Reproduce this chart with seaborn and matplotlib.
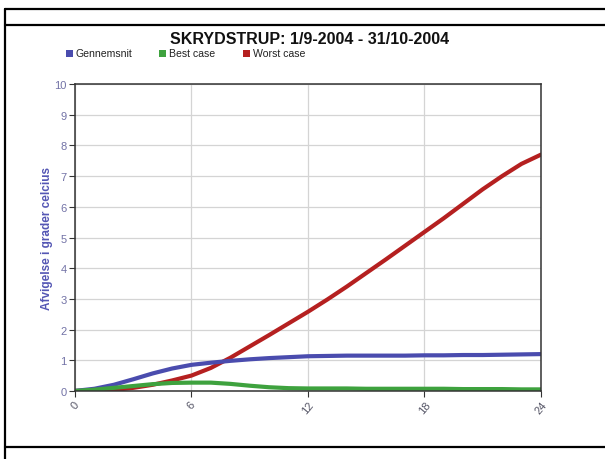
import matplotlib
matplotlib.use("Agg")
import matplotlib.pyplot as plt
from matplotlib.lines import Line2D
from matplotlib.patches import Rectangle
import seaborn as sns
import pandas as pd

sns.set_theme(style="white")
plt.rcParams["font.family"] = ["Liberation Sans", "DejaVu Sans"]

hours = list(range(0, 25))
gennemsnit = [0.0, 0.07, 0.2, 0.38, 0.57, 0.73, 0.85, 0.92, 0.98, 1.03, 1.07, 1.1, 1.13,
              1.14, 1.15, 1.15, 1.15, 1.15, 1.16, 1.16, 1.17, 1.17, 1.18, 1.19, 1.2]
best_case = [0.0, 0.04, 0.1, 0.16, 0.22, 0.26, 0.27, 0.27, 0.23, 0.17, 0.12, 0.09, 0.08,
             0.08, 0.08, 0.07, 0.07, 0.07, 0.07, 0.07, 0.06, 0.06, 0.06, 0.05, 0.05]
worst_case = [0.0, 0.01, 0.03, 0.1, 0.2, 0.34, 0.5, 0.75, 1.08, 1.45, 1.82, 2.2, 2.58,
              2.98, 3.4, 3.84, 4.28, 4.73, 5.18, 5.63, 6.1, 6.57, 7.0, 7.4, 7.7]

series = ["Gennemsnit", "Best case", "Worst case"]
colors = {"Gennemsnit": "#4a4cae", "Best case": "#3ea23e", "Worst case": "#b52020"}
title = "SKRYDSTRUP: 1/9-2004 - 31/10-2004"
ylabel = "Afvigelse i grader celcius"
xticks = [0, 6, 12, 18, 24]
yticks = list(range(0, 11))

df = pd.DataFrame({
    "time": hours * 3,
    "value": gennemsnit + best_case + worst_case,
    "serie": [s for s in series for _ in hours],
})

W, H = 605, 460
fig = plt.figure(figsize=(W / 100, H / 100), dpi=100)
ax = fig.add_axes([0.124, 0.148, 0.77, 0.667])

# draw order: red first, then blue, green on top
for name in ["Worst case", "Gennemsnit", "Best case"]:
    sub = df[df["serie"] == name]
    sns.lineplot(data=sub, x="time", y="value", ax=ax, color=colors[name],
                 linewidth=3.0, solid_capstyle="round", solid_joinstyle="round",
                 legend=False)

ax.set_xlim(0, 24)
ax.set_ylim(0, 10)
ax.set_xticks(xticks)
ax.set_yticks(yticks)
ax.set_xticklabels([str(t) for t in xticks], rotation=50, ha="center", va="top",
                   rotation_mode="default")
ax.grid(True, color="#d4d4d4", linewidth=0.9)
ax.set_axisbelow(True)
for sp in ax.spines.values():
    sp.set_color("#333333")
    sp.set_linewidth(1.1)
ax.tick_params(axis="both", which="both", direction="out", length=4, width=0.8,
               color="#333333", labelsize=8, labelcolor="#7272a6", pad=2,
               bottom=True, left=True)
ax.tick_params(axis="x", labelcolor="#555566")
ax.set_xlabel("")
ax.set_ylabel(ylabel, fontsize=8.5, fontweight="bold", color="#5456b4", labelpad=1)

fig.text(0.512, 0.915, title, ha="center", va="center", fontsize=11.5,
         fontweight="bold", color="#111111")

# legend row: coloured squares with labels
legend_x = [66, 159, 243]
ly = 54
for x0, name in zip(legend_x, series):
    fig.add_artist(Rectangle((x0 / W, 1 - (ly + 3.5) / H), 7 / W, 7 / H,
                             transform=fig.transFigure, facecolor=colors[name],
                             edgecolor="none"))
    fig.text((x0 + 10) / W, 1 - ly / H, name, ha="left", va="center",
             fontsize=7.6, color="#222222")

# outer frame
lw = 1.6
fig.add_artist(Line2D([0.008, 1.0], [0.978, 0.978], color="black", linewidth=lw))
fig.add_artist(Line2D([0.008, 1.0], [0.943, 0.943], color="black", linewidth=lw))
fig.add_artist(Line2D([0.008, 1.0], [0.026, 0.026], color="black", linewidth=lw))
fig.add_artist(Line2D([0.008, 0.008], [0.0, 0.978], color="black", linewidth=lw))

fig.savefig("out.png", dpi=100)
